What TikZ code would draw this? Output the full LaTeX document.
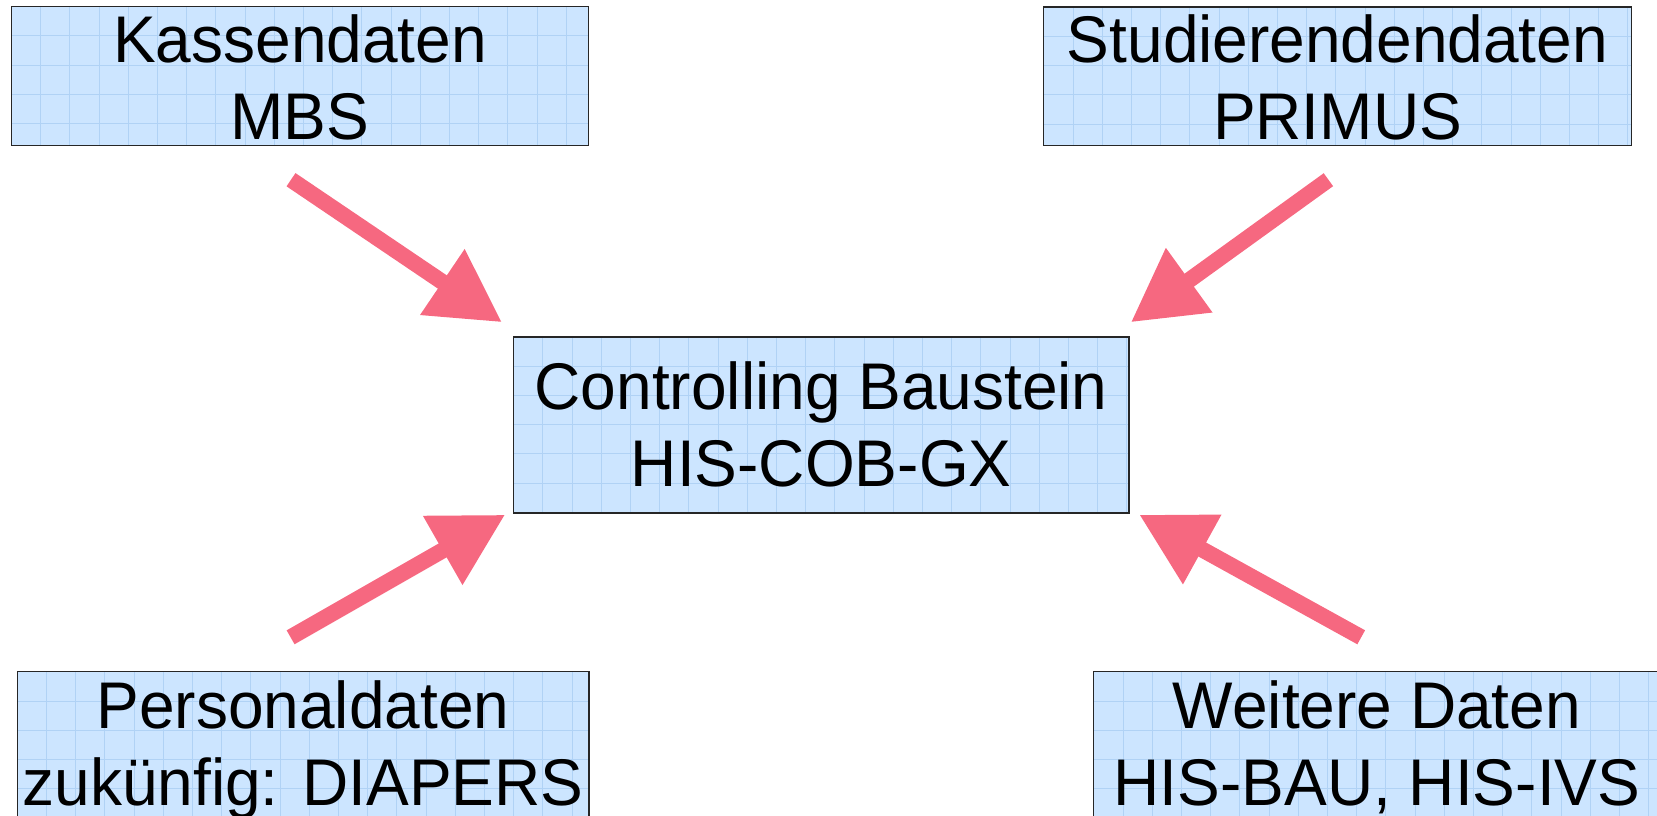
\documentclass[tikz,border=0pt]{standalone}
\usepackage{fontspec}
\setmainfont{Liberation Sans}
\usetikzlibrary{arrows.meta}
\definecolor{boxfill}{RGB}{204,229,255}
\definecolor{gridcol}{RGB}{176,210,245}
\definecolor{arrowpink}{RGB}{246,104,128}
\newcommand{\twolines}[2]{\scalebox{0.97}[1]{\begin{tabular}[b]{@{}c@{}}#1\\#2\end{tabular}}}
\newcommand{\boxgrid}[1]{%
  \begin{scope}
    \clip (#1.north west) rectangle (#1.south east);
    \begin{scope}[shift={(#1.north west)}]
      \draw[gridline] (0,0) grid (700,300);
    \end{scope}
  \end{scope}
  \draw[boxborder] (#1.north west) rectangle (#1.south east);
}
\tikzset{
  boxborder/.style={draw=black!85, line width=1.3pt},
  gridline/.style={draw=gridcol, line width=0.7pt, step=29.2pt},
  databox/.style={fill=boxfill, rectangle, inner sep=0pt},
  txt/.style={font=\fontsize{66}{77}\selectfont, inner sep=0pt, text depth=0pt, anchor=south},
  flow/.style={draw=arrowpink, line width=16pt, -{Triangle[length=72pt,width=75pt]}, arrowpink}
}
\begin{document}
\begin{tikzpicture}[x=1pt,y=-1pt]
\useasboundingbox (0,0) rectangle (1657,816);
\clip (0,0) rectangle (1657,816);
\node[databox, minimum width=577pt, minimum height=138.3pt] (kasse) at (300,76) {};
\node[databox, minimum width=587pt, minimum height=137.7pt] (stud) at (1337.5,76.2) {};
\node[databox, minimum width=615pt, minimum height=175.7pt] (cob) at (821.2,424.9) {};
\node[databox, minimum width=571.3pt, minimum height=232pt] (pers) at (303,788) {};
\node[databox, minimum width=566pt, minimum height=232pt] (weit) at (1377,788) {};
\boxgrid{kasse}
\boxgrid{stud}
\boxgrid{cob}
\boxgrid{pers}
\boxgrid{weit}
\node[txt] (tkasse) at (300,140) {\twolines{Kassendaten}{MBS}};
\node[txt] (tstud) at (1337.5,140) {\twolines{Studierendendaten}{PRIMUS}};
\node[txt] (tcob) at (821.2,486.7) {\twolines{Controlling Baustein}{HIS-COB-GX}};
\node[txt] (tpers) at (303,806) {\twolines{Personaldaten}{zukünfig: DIAPERS}};
\node[txt] (tweit) at (1377,806) {\twolines{Weitere Daten}{HIS-BAU, HIS-IVS}};
\coordinate (a1s) at (291,179.7);
\coordinate (a1e) at (502,322.3);
\coordinate (a2s) at (1328.4,179.7);
\coordinate (a2e) at (1130.8,322.3);
\coordinate (a3s) at (290.6,637.3);
\coordinate (a3e) at (505.2,514.7);
\coordinate (a4s) at (1361.2,637.3);
\coordinate (a4e) at (1139.2,514.7);
\draw[flow] (a1s) -- (a1e);
\draw[flow] (a2s) -- (a2e);
\draw[flow] (a3s) -- (a3e);
\draw[flow] (a4s) -- (a4e);
\end{tikzpicture}
\end{document}
